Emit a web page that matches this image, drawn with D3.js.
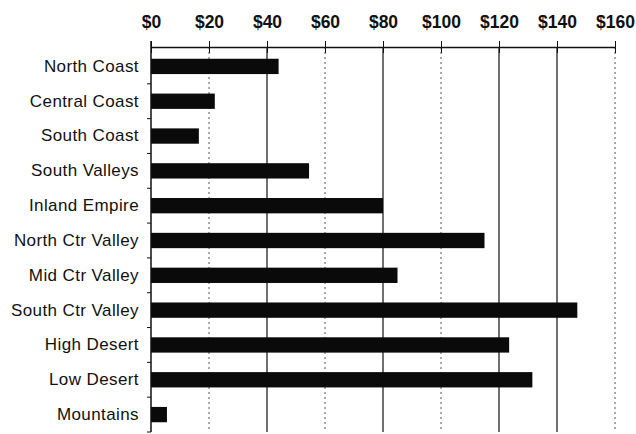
<!DOCTYPE html>
<html>
<head>
<meta charset="utf-8">
<script src="https://cdn.jsdelivr.net/npm/d3@7"></script>
<style>
  body { margin: 0; background: #fff; }
  text { font-family: "Liberation Sans", Arial, sans-serif; fill: #111; }
</style>
</head>
<body>
<div id="app"></div>
<script>
const regions = ['North Coast', 'Central Coast', 'South Coast', 'South Valleys', 'Inland Empire',
  'North Ctr Valley', 'Mid Ctr Valley', 'South Ctr Valley', 'High Desert', 'Low Desert', 'Mountains']
const values = [44, 22, 16.5, 54.5, 80, 115, 85, 147, 123.5, 131.5, 5.5]
const ticks = [0, 20, 40, 60, 80, 100, 120, 140, 160]
const dottedTicks = [20, 60, 100, 160]

const w = 636, h = 434
const padLeft = 151, padRight = 615, padTop = 47, padBottom = 432

const svg = d3.select('#app').append('svg')
  .attr('width', w)
  .attr('height', h)

const x = d3.scaleLinear().domain([0, 160]).range([padLeft, padRight])
const y = d3.scaleBand().domain(regions).range([padTop + 2, padBottom]).paddingInner(0.56).paddingOuter(0.28)

// gridlines
svg.append('g').selectAll('line')
  .data(ticks.filter(d => d > 0))
  .enter().append('line')
  .attr('x1', d => x(d)).attr('x2', d => x(d))
  .attr('y1', padTop).attr('y2', padBottom)
  .attr('stroke', d => dottedTicks.includes(d) ? '#555' : '#222')
  .attr('stroke-width', d => dottedTicks.includes(d) ? 1 : 1.3)
  .attr('stroke-dasharray', d => dottedTicks.includes(d) ? '2,3' : null)

// bars
svg.append('g').selectAll('rect')
  .data(regions)
  .enter().append('rect')
  .attr('x', x(0))
  .attr('y', d => y(d))
  .attr('width', (d, i) => x(values[i]) - x(0))
  .attr('height', y.bandwidth())
  .attr('fill', '#0a0a0a')

// top axis
const xAxis = d3.axisTop(x).tickValues(ticks).tickFormat(d => '$' + d).tickSizeInner(6).tickSizeOuter(0).tickPadding(13)
const gx = svg.append('g').attr('transform', 'translate(0,' + padTop + ')').call(xAxis)
gx.select('.domain').attr('stroke', '#111').attr('stroke-width', 1.5)
gx.selectAll('.tick line').attr('stroke', '#111').attr('y2', 6).attr('y1', -6)
gx.selectAll('.tick text').style('font-size', '17.5px').style('font-weight', 'bold').attr('fill', '#111')

// left axis
const step = y.step()
const yAxis = d3.axisLeft(y).tickSize(0).tickPadding(12)
const gy = svg.append('g').attr('transform', 'translate(' + padLeft + ',0)').call(yAxis)
gy.select('.domain').remove()
gy.append('line').attr('x1', 0).attr('x2', 0).attr('y1', padTop - 6).attr('y2', padBottom).attr('stroke', '#111').attr('stroke-width', 1.5)
gy.selectAll('.tick text').style('font-size', '17px').style('letter-spacing', '0.4px').attr('fill', '#111')
gy.selectAll('.tick').append('line')
  .attr('x1', -4).attr('x2', 0)
  .attr('y1', step / 2).attr('y2', step / 2)
  .attr('stroke', '#111')
</script>
</body>
</html>
